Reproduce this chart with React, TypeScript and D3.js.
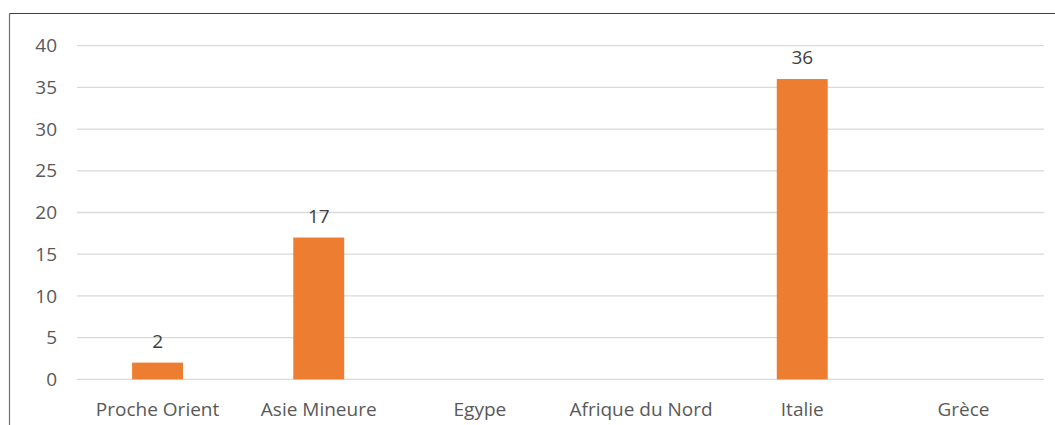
import React from "react";
import * as d3 from "d3";

const categories = ["Proche Orient", "Asie Mineure", "Egype", "Afrique du Nord", "Italie", "Grèce"];
const values = [2, 17, 0, 0, 36, 0];
const yTicks = [0, 5, 10, 15, 20, 25, 30, 35, 40];

const W = 1055;
const H = 425;
const plot = { left: 77, right: 1044, top: 45.7, bottom: 379.3 };
const FONT = "'Open Sans', sans-serif";

export default function App() {
  const x = d3
    .scaleBand<string>()
    .domain(categories)
    .range([plot.left, plot.right])
    .paddingInner(0.684)
    .paddingOuter(0.342);
  const y = d3.scaleLinear().domain([0, 40]).range([plot.bottom, plot.top]);
  const step = (plot.right - plot.left) / categories.length;

  return (
    <svg
      width={W}
      height={H}
      style={{ position: "absolute", left: 0, top: 0, background: "#fff" }}
      fontFamily={FONT}
    >
      <rect x={0} y={0} width={W} height={H} fill="#fff" />
      {/* chart border (left and top visible) */}
      <line x1={9.5} x2={W} y1={13.5} y2={13.5} stroke="#404040" strokeWidth={1.2} />
      <line x1={9.5} x2={9.5} y1={13.5} y2={H} stroke="#6f6f6f" strokeWidth={1.2} />
      {yTicks.map((t) => (
        <g key={t}>
          <line
            x1={plot.left}
            x2={plot.right}
            y1={y(t)}
            y2={y(t)}
            stroke="#d9d9d9"
            strokeWidth={1.3}
          />
          <text
            x={57}
            y={y(t)}
            dy="0.35em"
            textAnchor="end"
            fontSize={19}
            fill="#595959"
          >
            {t}
          </text>
        </g>
      ))}
      {categories.map((c, i) => {
        const v = values[i];
        const bx = x(c)!;
        const cx = plot.left + step * (i + 0.5);
        return (
          <g key={c}>
            {v > 0 && (
              <>
                <rect
                  x={bx}
                  y={y(v)}
                  width={x.bandwidth()}
                  height={y(0) - y(v)}
                  fill="#ED7D31"
                />
                <text
                  x={cx}
                  y={y(v) - 15}
                  textAnchor="middle"
                  fontSize={19}
                  fill="#404040"
                >
                  {v}
                </text>
              </>
            )}
            <text x={cx} y={416} textAnchor="middle" fontSize={19} fill="#595959">
              {c}
            </text>
          </g>
        );
      })}
    </svg>
  );
}
